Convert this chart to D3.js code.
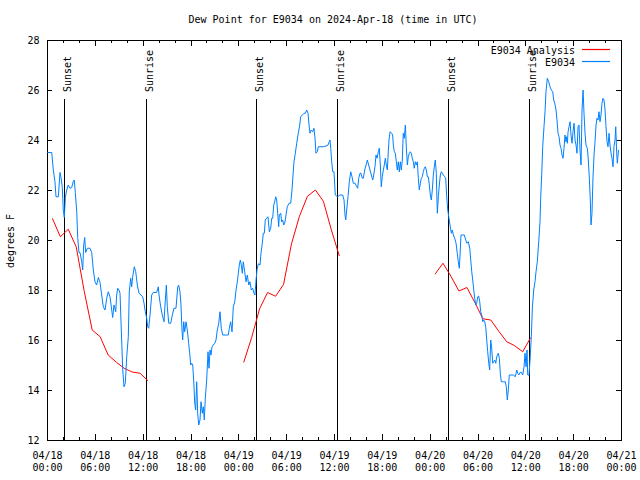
<!DOCTYPE html>
<html><head><meta charset="utf-8">
<script src="https://cdn.jsdelivr.net/npm/d3@7"></script>
<style>
body{margin:0;background:#fff}
svg text{font-family:"DejaVu Sans Mono",monospace;font-size:10px;fill:#000}
</style></head><body>
<svg id="c" width="640" height="480"></svg>
<script>
// ---------------- data ----------------
const title = "Dew Point for E9034 on 2024-Apr-18 (time in UTC)";
const yLabel = "degrees F";
const startTime = "2024-04-18T00:00:00Z";
const endTime = "2024-04-21T00:00:00Z";
const yTickValues = [12, 14, 16, 18, 20, 22, 24, 26, 28];
const seriesNames = ["E9034 Analysis", "E9034"];
const analysisColor = "#ff0000";
const observedColor = "#0080ff";

// sun events: [label, hours after start]
const sunEvents = [["Sunset", 2.17], ["Sunrise", 12.46], ["Sunset", 26.22],
                   ["Sunrise", 36.42], ["Sunset", 50.34], ["Sunrise", 60.42]];
const sunLineTop = 25.64;   // value where the event lines end
const sunLabelStart = 25.92;

// analysis (hourly) : [hours after start, degF]
const analysis1 = [[0.67,20.87],[1.67,20.13],[2.67,20.43],[3.67,19.72],[4.67,17.95],[5.67,16.4],
  [6.67,16.13],[7.67,15.4],[8.67,15.12],[9.67,14.87],[10.67,14.72],[11.67,14.67],[12.67,14.37]];
const analysis2 = [[24.67,15.1],[25.67,16.1],[26.67,17.25],[27.67,17.9],[28.67,17.75],[29.67,18.22],
  [30.67,19.85],[31.67,20.95],[32.67,21.75],[33.67,22.0],[34.67,21.55],[35.67,20.4],[36.67,19.36]];
const analysis3 = [[48.67,18.63],[49.67,19.07],[50.67,18.55],[51.67,17.96],[52.67,18.1],[53.67,17.5],
  [54.67,16.85],[55.67,16.8],[56.67,16.35],[57.67,15.93],[58.67,15.77],[59.67,15.53],[60.67,16.1]];

// station observations : [hours after start, degF]
const observed = [
 [0.04,23.5],[0.59,23.5],[0.79,22.8],[1.00,22.33],[1.13,21.73],[1.42,21.73],[1.63,22.7],[1.76,22.5],
 [1.92,22.1],[2.04,21.2],[2.17,20.9],[2.30,21.7],[2.47,22.0],[2.67,22.2],[2.89,22.07],[3.10,22.1],
 [3.30,22.35],[3.42,22.4],[3.55,21.9],[3.73,21.13],[3.85,20.1],[4.01,19.5],[4.14,19.5],[4.35,19.13],
 [4.48,18.8],[4.60,19.8],[4.73,20.1],[4.85,19.5],[5.06,19.67],[5.39,19.67],[5.61,19.5],[5.81,18.8],
 [6.02,18.33],[6.23,18.2],[6.44,18.5],[6.65,18.3],[6.86,17.8],[7.06,17.33],[7.28,17.2],[7.49,17.67],
 [7.69,17.93],[7.90,17.73],[8.12,17.2],[8.24,16.9],[8.40,17.4],[8.62,17.13],[8.74,17.8],[8.87,18.07],
 [9.03,18.0],[9.16,17.87],[9.32,16.4],[9.50,14.8],[9.66,14.13],[9.82,14.27],[10.00,15.33],[10.20,16.13],
 [10.32,17.93],[10.50,18.47],[10.62,18.13],[10.75,18.53],[10.95,18.93],[11.13,18.73],[11.33,18.2],
 [11.54,17.87],[11.79,17.8],[12.00,17.73],[12.17,17.47],[12.33,17.13],[12.51,16.87],[12.63,16.53],
 [12.76,16.47],[12.92,17.0],[13.13,17.8],[13.33,17.9],[13.76,17.9],[13.96,18.13],
 [14.05,17.8],[14.26,17.33],[14.46,17.0],[14.68,16.73],[14.80,17.4],[14.97,18.2],[15.09,17.33],
 [15.27,16.67],[15.52,16.67],[15.72,17.0],[15.93,17.27],[16.18,17.27],[16.40,18.13],[16.52,18.2],
 [16.68,17.93],[16.81,17.4],[16.93,16.4],[17.02,16.0],[17.15,16.73],[17.27,16.33],[17.44,16.73],
 [17.60,16.4],[17.77,15.87],[17.90,15.47],[18.03,15.0],[18.15,15.07],[18.28,15.0],[18.40,14.4],
 [18.53,13.47],[18.65,13.2],[18.78,14.33],[18.90,13.07],[19.03,12.6],[19.19,12.8],[19.32,13.53],
 [19.48,13.07],[19.61,13.33],[19.73,12.8],[19.86,13.67],[20.03,14.4],[20.20,15.53],[20.32,14.87],
 [20.45,15.6],[20.57,15.4],[20.70,15.73],[20.86,15.8],[21.04,15.87],[21.20,16.0],[21.36,16.4],
 [21.54,16.67],[21.70,17.13],[21.86,16.47],[22.04,16.2],[22.33,16.2],[22.74,16.2],[22.87,16.47],
 [23.04,16.73],[23.21,16.33],[23.37,17.33],[23.55,17.53],[23.71,18.0],[23.87,18.33],[24.00,18.67],
 [24.12,19.0],[24.25,19.2],[24.37,19.0],[24.50,18.67],[24.62,19.13],[24.80,18.73],[24.96,18.33],
 [25.13,18.6],[25.30,18.2],[25.46,18.33],[25.63,18.0],[25.80,18.07],[25.97,17.87],[26.09,17.8],
 [26.22,18.4],[26.34,18.8],[26.51,19.05],[26.72,19.0],[26.84,19.47],[27.01,19.87],
 [27.13,20.27],[27.26,20.27],[27.38,20.8],[27.56,20.87],[27.72,20.93],[27.89,20.33],[28.06,20.47],
 [28.19,20.87],[28.31,20.87],[28.44,21.4],[28.56,21.53],[28.69,21.73],[28.81,21.6],[28.94,21.07],
 [29.06,20.53],[29.14,21.0],[29.32,21.07],[29.44,20.73],[29.57,20.8],[29.69,20.6],[29.82,20.67],
 [29.98,21.0],[30.14,21.33],[30.36,21.47],[30.57,21.47],[30.73,22.0],[30.86,22.6],[30.98,23.13],
 [31.15,23.47],[31.32,23.87],[31.52,24.27],[31.70,24.6],[31.82,24.93],[32.03,25.0],[32.24,25.07],
 [32.40,25.07],[32.58,25.2],[32.74,25.07],[32.87,24.6],[32.99,24.27],[33.15,24.4],[33.33,24.33],
 [33.49,24.47],[33.62,24.07],[33.74,23.47],[33.91,23.53],[34.03,23.73],[34.25,23.73],[34.66,23.73],
 [35.00,23.76],[35.25,23.8],[35.41,23.93],[35.50,24.0],[35.59,23.67],[35.71,23.13],[35.84,22.73],
 [36.00,22.73],[36.16,21.8],[36.42,21.73],[36.75,21.8],[37.09,21.8],[37.26,21.6],[37.38,21.0],
 [37.47,20.8],[37.59,21.2],[37.76,21.73],[37.92,22.33],[38.10,22.73],[38.26,22.53],[38.42,22.27],
 [38.64,22.27],[38.85,22.13],[38.97,22.07],[39.10,22.47],[39.26,22.67],
 [39.39,22.67],[39.55,22.47],[39.68,22.47],[39.85,22.8],[40.02,23.0],[40.18,23.2],[40.35,23.0],
 [40.52,22.8],[40.68,22.6],[40.86,22.4],[40.98,22.6],[41.14,22.93],[41.27,23.4],[41.40,23.27],
 [41.56,23.53],[41.68,23.67],[41.81,23.0],[41.93,22.13],[42.06,22.53],[42.19,22.8],[42.31,23.0],
 [42.44,23.27],[42.56,23.0],[42.69,22.8],[42.81,23.53],[42.90,24.0],[43.03,24.33],[43.24,24.27],
 [43.36,24.2],[43.44,23.8],[43.57,23.53],[43.69,23.47],[43.82,23.13],[43.94,22.8],[44.07,23.13],
 [44.19,22.73],[44.32,23.13],[44.44,22.8],[44.57,23.2],[44.69,24.27],[44.82,24.07],[44.95,24.6],
 [45.07,23.73],[45.20,23.0],[45.32,23.33],[45.45,23.47],[45.57,23.53],[45.70,23.47],[45.82,23.27],
 [45.95,23.13],[46.07,22.87],[46.20,23.13],[46.33,23.0],[46.45,23.13],[46.58,22.47],[46.70,22.0],
 [46.83,22.27],[46.95,22.47],[47.08,22.53],[47.20,22.73],[47.33,22.87],[47.45,22.93],[47.58,22.8],
 [47.71,22.53],[47.83,22.53],[47.96,22.2],[48.08,21.8],[48.21,21.6],[48.33,22.0],[48.46,22.6],
 [48.58,22.93],[48.71,23.2],[48.83,22.67],[48.96,21.07],[49.09,21.73],[49.21,22.2],[49.34,22.6],
 [49.46,22.73],[49.59,22.67],[49.71,22.6],[49.89,22.53],[50.01,22.47],[50.14,21.73],[50.27,21.2],
 [50.39,20.93],[50.55,20.6],[50.72,20.27],[50.84,20.4],[50.97,20.2],[51.14,20.07],[51.31,19.87],
 [51.47,19.45],[51.59,19.13],[51.72,18.87],[51.81,19.4],[51.93,20.2],[52.10,20.2],[52.35,20.2],
 [52.52,20.0],[52.68,19.87],[52.85,19.93],[53.03,19.67],[53.15,19.2],[53.28,18.73],[53.40,18.4],
 [53.53,18.0],[53.65,17.67],[53.78,17.4],[53.90,17.47],[54.03,17.73],[54.15,17.76],[54.28,17.53],
 [54.40,17.13],[54.53,17.0],[54.66,16.73],[54.78,16.8],[54.91,16.73],[55.03,16.53],[55.16,16.0],
 [55.28,15.53],[55.41,15.07],[55.53,14.8],[55.66,16.0],[55.78,15.67],[55.91,15.07],[56.03,15.13],
 [56.16,15.2],[56.29,15.07],[56.41,15.33],[56.61,15.47],[56.74,15.27],[56.86,14.67],[56.99,14.33],
 [57.24,14.33],[57.49,14.33],[57.61,14.13],[57.74,13.6],[57.86,14.0],[57.99,14.6],[58.20,14.6],
 [58.49,14.6],[58.74,14.53],[58.92,14.8],[59.04,14.67],[59.17,14.6],[59.33,14.7],[59.50,14.7],
 [59.67,14.6],[59.84,14.93],[59.96,15.47],[60.09,14.93],[60.21,15.6],[60.30,14.6],[60.46,14.6],
 [60.59,15.2],[60.75,16.13],[60.88,17.27],[61.05,18.0],[61.21,18.33],[61.34,18.73],[61.50,19.13],
 [61.68,19.93],[61.84,20.73],[61.93,21.73],[62.06,22.67],[62.18,23.73],[62.34,24.53],[62.47,25.13],
 [62.59,25.93],[62.76,26.47],[62.93,26.33],[63.10,26.13],[63.26,26.0],[63.44,25.93],[63.56,25.6],
 [63.69,25.47],[63.85,25.2],[63.97,24.8],[64.10,24.27],[64.23,24.13],[64.35,23.8],[64.48,23.67],
 [64.60,23.4],[64.73,23.27],[64.85,23.67],[64.98,24.2],[65.10,23.93],[65.19,24.13],[65.27,23.87],
 [65.36,24.33],[65.48,24.53],[65.61,24.73],[65.73,24.2],[65.86,23.87],[65.98,24.33],[66.11,24.67],
 [66.23,24.0],[66.36,23.8],[66.48,23.47],[66.61,24.53],[66.73,24.6],[66.86,23.6],[66.99,23.0],
 [67.11,25.2],[67.24,26.0],[67.36,25.07],[67.49,24.27],[67.61,23.8],[67.78,23.67],[67.90,23.2],
 [68.03,22.47],[68.15,21.6],[68.24,20.6],[68.36,21.07],[68.49,22.53],[68.62,23.4],[68.74,23.93],
 [68.87,24.6],[68.99,24.87],[69.12,24.8],[69.24,25.13],[69.37,24.73],[69.49,25.0],[69.62,25.47],
 [69.74,25.67],[69.87,25.6],[70.00,25.2],[70.12,24.53],[70.25,23.93],[70.37,23.73],[70.50,24.27],
 [70.62,23.8],[70.75,23.47],[70.87,23.27],[71.00,22.93],[71.12,23.73],[71.25,24.0],[71.34,24.53],
 [71.46,23.47],[71.54,23.07],[71.69,23.6]
];

// ---------------- drawing ----------------
const W = 640, H = 480;
const m = {left: 47, right: 19, top: 40, bottom: 40};
const svg = d3.select("#c");
const t0 = new Date(startTime), t1 = new Date(endTime);
const toDate = h => new Date(t0.getTime() + h * 3600e3);

const x = d3.scaleUtc().domain([t0, t1]).range([m.left, W - m.right]);
const y = d3.scaleLinear().domain([12, 28]).range([H - m.bottom, m.top]);

svg.append("rect").attr("width", W).attr("height", H).attr("fill", "#fff");

// title
svg.append("text").attr("x", 333).attr("y", 23).attr("text-anchor", "middle").text(title);

// y label
svg.append("text").attr("transform", "translate(13.5,241) rotate(-90)")
  .attr("text-anchor", "middle").text(yLabel);

const axisStyle = g => {
  g.select(".domain").remove();
  g.selectAll(".tick line").attr("stroke", "#000").attr("shape-rendering", "crispEdges");
};

// x axes (major 6h with labels, minor 2h)
const major = d3.utcHour.every(6), minor = d3.utcHour.every(2);
const fmtD = d3.utcFormat("%m/%d"), fmtT = d3.utcFormat("%H:%M");

svg.append("g").attr("transform", `translate(0,${H - m.bottom})`)
  .call(d3.axisBottom(x).ticks(minor).tickSize(-3).tickFormat(""))
  .call(axisStyle);
svg.append("g").attr("transform", `translate(0,${m.top})`)
  .call(d3.axisTop(x).ticks(minor).tickSize(-3).tickFormat(""))
  .call(axisStyle);
svg.append("g").attr("transform", `translate(0,${m.top})`)
  .call(d3.axisTop(x).ticks(major).tickSize(-6).tickFormat(""))
  .call(axisStyle);
const xb = svg.append("g").attr("transform", `translate(0,${H - m.bottom})`)
  .call(d3.axisBottom(x).ticks(major).tickSize(-6).tickFormat(""))
  .call(axisStyle);
xb.selectAll(".tick").each(function(d) {
  const t = d3.select(this).append("text").attr("text-anchor", "middle");
  t.append("tspan").attr("x", 0).attr("y", 18.5).text(fmtD(d));
  t.append("tspan").attr("x", 0).attr("y", 30.5).text(fmtT(d));
});

// y axes
const yl = svg.append("g").attr("transform", `translate(${m.left},0)`)
  .call(d3.axisLeft(y).tickValues(yTickValues).tickSize(-5).tickPadding(10))
  .call(axisStyle);
yl.attr("font-family", null).attr("font-size", null);
yl.selectAll("text").attr("fill", null).attr("x", -7.5).attr("dy", "0.36em");
svg.append("g").attr("transform", `translate(${W - m.right},0)`)
  .call(d3.axisRight(y).tickValues(yTickValues).tickSize(-5).tickFormat(""))
  .call(axisStyle);
xb.attr("font-family", null).attr("font-size", null);

// border
svg.append("rect").attr("x", m.left + 0.5).attr("y", m.top + 0.5)
  .attr("width", W - m.left - m.right).attr("height", H - m.top - m.bottom)
  .attr("fill", "none").attr("stroke", "#000").attr("shape-rendering", "crispEdges");

// sun events
const ev = svg.append("g");
sunEvents.forEach(([lab, h]) => {
  const px = Math.round(x(toDate(h))) + 0.5;
  ev.append("line").attr("x1", px).attr("x2", px)
    .attr("y1", y(sunLineTop)).attr("y2", y(12))
    .attr("stroke", "#000").attr("stroke-width", 1).attr("shape-rendering", "crispEdges");
  ev.append("text").attr("transform", `translate(${px + 6},${y(sunLabelStart)}) rotate(-90)`)
    .attr("text-anchor", "start").text(lab);
});

// data lines
const line = d3.line().x(d => x(toDate(d[0]))).y(d => y(d[1]));
const plot = svg.append("g");
[analysis1, analysis2, analysis3].forEach(seg => {
  plot.append("path").datum(seg).attr("d", line)
    .attr("fill", "none").attr("stroke", analysisColor).attr("stroke-width", 1);
});
plot.append("path").datum(observed).attr("d", line)
  .attr("fill", "none").attr("stroke", observedColor).attr("stroke-width", 1);

// legend
const legendColors = [analysisColor, observedColor];
const lg = svg.append("g");
seriesNames.forEach((n, i) => {
  const ly = 50 + i * 12;
  lg.append("text").attr("x", 575).attr("y", ly).attr("dy", "0.35em")
    .attr("text-anchor", "end").text(n);
  lg.append("path").attr("d", `M582,${ly - 0.5}H610`)
    .attr("fill", "none").attr("stroke", legendColors[i]).attr("stroke-width", 1.2);
});
</script>
</body></html>
